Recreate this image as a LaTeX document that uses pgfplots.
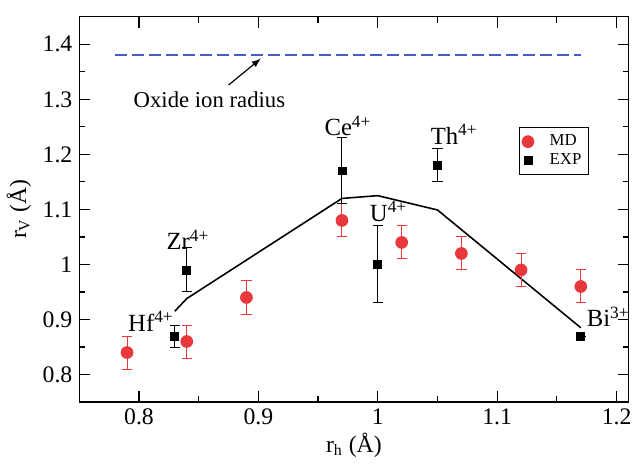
\documentclass[border=0pt]{standalone}
\usepackage{fontspec}
\setmainfont{Liberation Serif}
\usepackage{pgfplots}
\pgfplotsset{compat=1.18}
\definecolor{mdred}{RGB}{232,56,60}
\definecolor{dashblue}{RGB}{72,92,196}
\begin{document}
\begin{tikzpicture}
\begin{axis}[
  scale only axis,
  width=278pt, height=195pt,
  xmin=0.75, xmax=1.21,
  ymin=0.75, ymax=1.45,
  xtick={0.8,0.9,1,1.1,1.2},
  ytick={0.8,0.9,1,1.1,1.2,1.3,1.4},
  minor tick num=1,
  tick align=inside,
  tick pos=both,
  major tick length=5.5pt,
  minor tick length=3pt,
  axis line style={line width=0.7pt},
  every tick/.style={black, line width=0.6pt},
  /pgf/number format/assume math mode=true,
  tick label style={font=\fontsize{12}{13}\selectfont},
  label style={font=\fontsize{12}{13}\selectfont},
  xlabel={r\textsubscript{h} (Å)},
  ylabel={r\textsubscript{V} (Å)},
  xlabel style={yshift=3pt},
  ylabel style={yshift=-1pt},
  clip=false,
  legend style={at={(0.80,0.713)}, anchor=north west, draw=black, line width=0.4pt,
    font=\fontsize{8.5}{9}\selectfont, inner sep=1.5pt, row sep=-1.5pt,
    nodes={inner sep=2pt}},
  legend cell align=left,
  legend image code/.code={\draw[#1] plot coordinates {(0.25cm,0cm)};},
]
% oxide ion radius
\addplot[dashblue, line width=0.9pt, dash pattern=on 6pt off 2.6pt, forget plot]
  coordinates {(0.78,1.38) (1.17,1.38)};
% model line
\addplot[black, line width=0.8pt, forget plot]
  coordinates {(0.83,0.915) (0.84,0.938) (0.97,1.12) (1.00,1.125) (1.05,1.099) (1.17,0.885)};
% MD
\addplot[only marks, mark=*, mark size=3pt, mdred, mark options={draw=mdred, fill=mdred},
  error bars/.cd, y dir=both, y explicit,
  error bar style={mdred, line width=0.5pt},
  error mark options={rotate=90, mdred, mark size=2.6pt, line width=0.5pt}]
  coordinates {
    (0.79,0.84) +- (0,0.03)
    (0.84,0.86) +- (0,0.03)
    (0.89,0.94) +- (0,0.03)
    (0.97,1.08) +- (0,0.03)
    (1.02,1.04) +- (0,0.03)
    (1.07,1.02) +- (0,0.03)
    (1.12,0.99) +- (0,0.03)
    (1.17,0.96) +- (0,0.03)
  };
\addlegendentry{\hspace{6pt}MD}
% EXP
\addplot[only marks, mark=square*, mark size=2pt, black,
  error bars/.cd, y dir=both, y explicit,
  error bar style={black, line width=0.5pt},
  error mark options={rotate=90, black, mark size=2.6pt, line width=0.5pt}]
  coordinates {
    (0.83,0.87) +- (0,0.02)
    (0.84,0.99) +- (0,0.04)
    (0.97,1.17) +- (0,0.06)
    (1.00,1.00) +- (0,0.07)
    (1.05,1.18) +- (0,0.03)
    (1.17,0.87) +- (0,0)
  };
\addlegendentry{\hspace{6pt}EXP}
\node[font=\fontsize{11.5}{12}\selectfont] at (axis cs:0.859,1.30) {Oxide ion radius};
\draw[-{latex}, line width=0.6pt] (axis cs:0.875,1.326) -- (axis cs:0.902,1.374);
\node[font=\fontsize{12.5}{13}\selectfont] at (axis cs:0.810,0.897) {Hf\textsuperscript{4+}};
\node[font=\fontsize{12.5}{13}\selectfont] at (axis cs:0.841,1.045) {Zr\textsuperscript{4+}};
\node[font=\fontsize{12.5}{13}\selectfont] at (axis cs:0.975,1.252) {Ce\textsuperscript{4+}};
\node[font=\fontsize{12.5}{13}\selectfont] at (axis cs:1.064,1.237) {Th\textsuperscript{4+}};
\node[font=\fontsize{12.5}{13}\selectfont] at (axis cs:1.009,1.096) {U\textsuperscript{4+}};
\node[font=\fontsize{12.5}{13}\selectfont] at (axis cs:1.193,0.905) {Bi\textsuperscript{3+}};
\end{axis}
\path ([yshift=8.5pt]current axis.north west) -- ([xshift=2pt]current axis.east);
\end{tikzpicture}
\end{document}
